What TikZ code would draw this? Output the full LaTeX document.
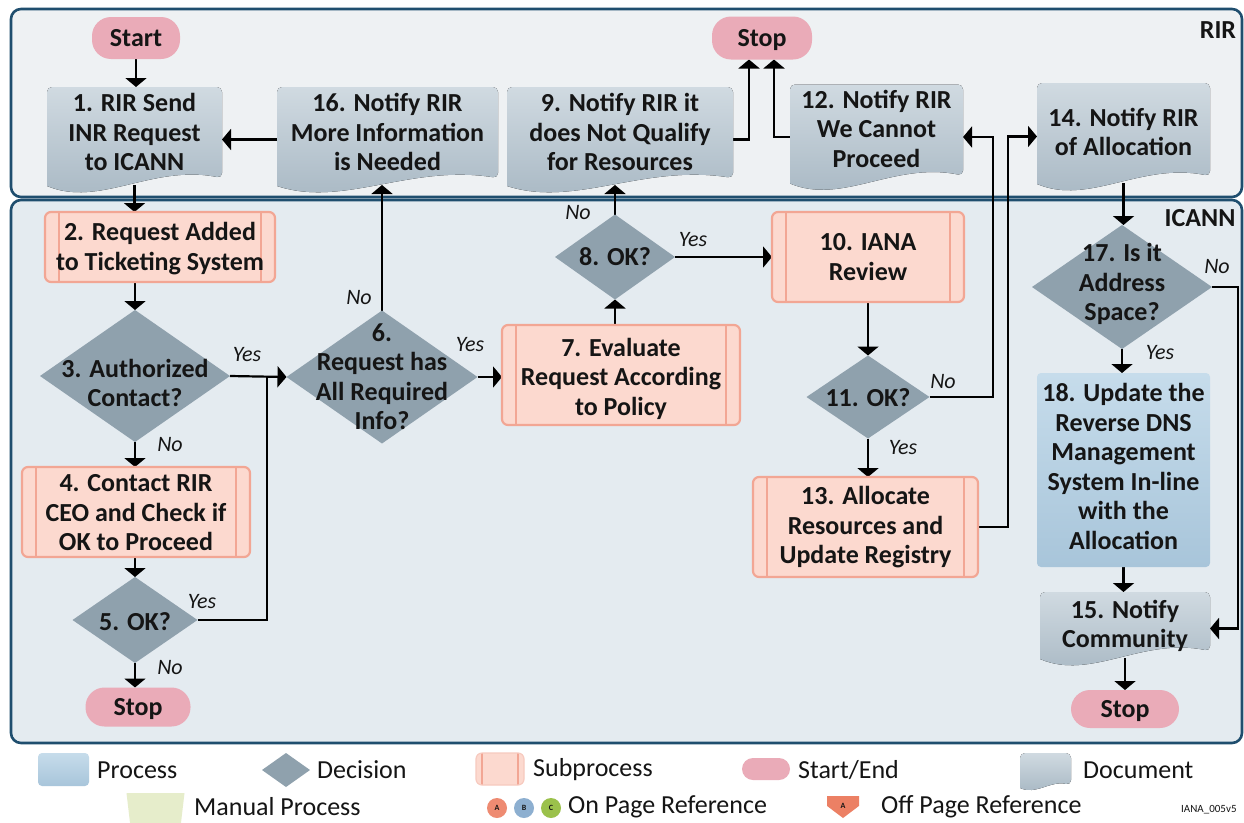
\documentclass[tikz,border=0pt]{standalone}
\usepackage{fontspec}
\setmainfont{Carlito}
\usetikzlibrary{shapes.geometric,arrows.meta,calc}
\pgfdeclarelayer{bg}
\pgfsetlayers{bg,main}

\definecolor{lanebd}{HTML}{1F4E6E}
\definecolor{rirbg}{HTML}{EEF1F3}
\definecolor{icannbg}{HTML}{E4EBF0}
\definecolor{docTop}{HTML}{D0DAE1}
\definecolor{docBot}{HTML}{A6B6C2}
\definecolor{decfill}{HTML}{8FA1AD}
\definecolor{subfill}{HTML}{FCD9CF}
\definecolor{subline}{HTML}{F2A694}
\definecolor{termfill}{HTML}{EAABB8}
\definecolor{procTop}{HTML}{C6DCEB}
\definecolor{procBot}{HTML}{A8C5DA}
\definecolor{manfill}{HTML}{E6EDCB}
\definecolor{refA}{HTML}{EE8B72}
\definecolor{refB}{HTML}{8DAFD0}
\definecolor{refC}{HTML}{9BC14B}
\definecolor{offref}{HTML}{EC8064}
\definecolor{ink}{HTML}{151515}

\newcommand\ctxt[2][-8.5pt]{\smash{\raisebox{#1}{\makebox[0pt]{\begin{tabular}{@{}c@{}}#2\end{tabular}}}}}

\tikzset{
  base/.style={font=\fontsize{26}{29.5}\selectfont\bfseries, text=ink, inner sep=0pt, outer sep=0pt},
  docnode/.style={base, rectangle, path picture={
      \fill[top color=docTop, bottom color=docBot]
        let \p1=(path picture bounding box.south west), \p2=(path picture bounding box.north east), \n1={\x2-\x1} in
        (\x1,\y1+6pt*#1) [rounded corners=5pt] -- (\x1,\y2) -- (\x2,\y2) -- (\x2,\y1+14pt*#1) [sharp corners]
        .. controls (\x1+0.6*\n1,\y1+28pt*#1) and (\x1+0.3*\n1,\y1-16pt*#1) .. (\x1,\y1+6pt*#1) -- cycle;}},
  docnode/.default=1,
  subnode/.style={base, rectangle, rounded corners=6pt, fill=subfill, draw=subline, line width=2.2pt,
    path picture={
      \draw[subline, line width=1.6pt] ([xshift=#1]path picture bounding box.north west) -- ([xshift=#1]path picture bounding box.south west);
      \draw[subline, line width=1.6pt] ([xshift=-#1]path picture bounding box.north east) -- ([xshift=-#1]path picture bounding box.south east);}},
  subnode/.default=14pt,
  decnode/.style={base, diamond, fill=decfill},
  termnode/.style={base, rectangle, rounded corners=19pt, fill=termfill},
  procnode/.style={base, rectangle, rounded corners=4pt, top color=procTop, bottom color=procBot},
  lbl/.style={font=\fontsize{22}{24}\selectfont\itshape, text=ink, inner sep=0pt},
  lanelbl/.style={font=\fontsize{26}{28}\selectfont\bfseries, text=ink, inner sep=0pt},
  legtxt/.style={font=\fontsize{26}{28}\selectfont, text=ink, anchor=west, inner sep=0pt},
  lane/.style={rounded corners=10pt, draw=lanebd, line width=2.6pt},
  conn/.style={draw=black, line width=2.2pt, -{Triangle[width=21pt,length=9pt]}},
  wire/.style={draw=black, line width=2.2pt},
  refdot/.style={circle, inner sep=0pt, minimum size=20pt, font=\fontsize{8}{8}\selectfont\bfseries, text=ink},
}

\begin{document}
\begin{tikzpicture}[x=1pt,y=-1pt]
\useasboundingbox (0,0) rectangle (1244,822);
\begin{pgfonlayer}{bg}
  \fill[white] (0,0) rectangle (1244,822);
  \draw[lane, fill=rirbg] (11,9) rectangle (1242,197);
  \draw[lane, fill=icannbg] (11,200) rectangle (1242,743);
\end{pgfonlayer}
\node[lanelbl] (lrir) at (1218,30) {RIR};
\node[lanelbl] (licann) at (1200,218) {ICANN};

% RIR lane
\node[termnode, minimum width=88pt, minimum height=42pt] (start) at (136,38) {\ctxt{Start}};
\node[docnode, minimum width=175pt, minimum height=105pt] (n1) at (134.5,139.5) {\ctxt[-2pt]{1. RIR Send\\INR Request\\to ICANN}};
\node[docnode, minimum width=221pt, minimum height=105pt] (n16) at (387.5,139.5) {\ctxt[-2pt]{16. Notify RIR\\More Information\\is Needed}};
\node[docnode, minimum width=226pt, minimum height=105pt] (n9) at (620,139.5) {\ctxt[-2pt]{9. Notify RIR it\\does Not Qualify\\for Resources}};
\node[termnode, minimum width=100pt, minimum height=43pt] (stopT) at (762,38) {\ctxt{Stop}};
\node[docnode, minimum width=173pt, minimum height=105pt] (n12) at (876.5,137) {\ctxt[-1pt]{12. Notify RIR\\We Cannot\\Proceed}};
\node[docnode, minimum width=173pt, minimum height=107pt] (n14) at (1123.5,136.5) {\ctxt[-5pt]{14. Notify RIR\\of Allocation}};

% ICANN lane
\node[subnode, minimum width=230pt, minimum height=70pt] (n2) at (160,247) {\ctxt[-9pt]{2. Request Added\\to Ticketing System}};
\node[decnode, minimum width=190pt, minimum height=132pt] (n3) at (135,376) {\ctxt[-16.5pt]{3. Authorized\\Contact?}};
\node[subnode, minimum width=228pt, minimum height=90pt] (n4) at (136,512) {\ctxt[-9.5pt]{4. Contact RIR\\CEO and Check if\\OK to Proceed}};
\node[decnode, minimum width=125pt, minimum height=86pt] (n5) at (135,620) {\ctxt[-10.5pt]{5. OK?}};
\node[termnode, minimum width=105pt, minimum height=39pt] (stopL) at (138,707) {\ctxt{Stop}};
\node[decnode, minimum width=191pt, minimum height=133pt] (n6) at (382,377) {\ctxt[-9pt]{6.\\Request has\\All Required\\Info?}};
\node[subnode, minimum width=238pt, minimum height=100pt] (n7) at (621,375) {\ctxt[-11pt]{7. Evaluate\\Request According\\to Policy}};
\node[decnode, minimum width=120pt, minimum height=85pt] (n8) at (615,257) {\ctxt[-8.5pt]{8. OK?}};
\node[subnode, minimum width=192pt, minimum height=90pt] (n10) at (868,257) {\ctxt[-9pt]{10. IANA\\Review}};
\node[decnode, minimum width=123pt, minimum height=83pt] (n11) at (868,397) {\ctxt[-9.5pt]{11. OK?}};
\node[subnode, minimum width=225pt, minimum height=100pt] (n13) at (865.5,527) {\ctxt[-7.5pt]{13. Allocate\\Resources and\\Update Registry}};
\node[decnode, minimum width=180pt, minimum height=124pt] (n17) at (1122,287) {\ctxt[-4.5pt]{17. Is it\\Address\\Space?}};
\node[procnode, minimum width=173pt, minimum height=194pt] (n18) at (1123.5,470) {\ctxt[-6pt]{18. Update the\\Reverse DNS\\Management\\System In-line\\with the\\Allocation}};
\node[docnode, minimum width=170pt, minimum height=73pt] (n15) at (1125,628.5) {\ctxt[-5pt]{15. Notify\\Community}};
\node[termnode, minimum width=108pt, minimum height=38pt] (stopR) at (1125,709) {\ctxt{Stop}};

% labels
\node[lbl] (y3) at (247,355) {Yes};
\node[lbl] (no3) at (170,445) {No};
\node[lbl] (y5) at (202,602) {Yes};
\node[lbl] (no5) at (170,668) {No};
\node[lbl] (no6) at (359,298) {No};
\node[lbl] (y6) at (470,345) {Yes};
\node[lbl] (no8) at (578,213) {No};
\node[lbl] (y8) at (693,240) {Yes};
\node[lbl] (no11) at (943,382) {No};
\node[lbl] (y11) at (903,448) {Yes};
\node[lbl] (no17) at (1217,267) {No};
\node[lbl] (y17) at (1160,353) {Yes};

% helper coordinates
\coordinate (n1b) at ([yshift=7pt]n1.south);
\coordinate (n16b) at ([yshift=7pt]n16.south);
\coordinate (n9b) at ([yshift=7pt]n9.south);
\coordinate (n14b) at ([yshift=7pt]n14.south);
\coordinate (n15b) at ([yshift=7pt]n15.south);
\coordinate (s1) at ([xshift=-13pt]stopT.south);
\coordinate (s2) at ([xshift=12pt]stopT.south);
\coordinate (j5) at (267,376);
\coordinate (k1) at (993,300);
\coordinate (k2) at (1008,300);
\coordinate (k3) at (1238,400);

\begin{pgfonlayer}{bg}
  \draw[conn] (start.south) -- (start.south |- n1.north);
  \draw[conn] (n16.west) -- (n1.east);
  \draw[conn] (n1b) -- (n1b |- n2.north);
  \draw[conn] (n3.north |- n2.south) -- (n3.north);
  \draw[conn] (n3.south) -- (n3.south |- n4.north);
  \draw[conn] (n5.north |- n4.south) -- (n5.north);
  \draw[conn] (n5.south) -- (n5.south |- stopL.north);
  \draw[conn] (n3.east) -- (n6.west);
  \draw[wire] (n5.east) -| (j5);
  \draw[conn] (n6.north) -- (n6.north |- n16b);
  \draw[conn] (n6.east) -- (n6.east -| n7.west);
  \draw[conn] (n8.south |- n7.north) -- (n8.south);
  \draw[conn] (n8.north) -- (n8.north |- n9b);
  \draw[conn] (n8.east) -- (n8.east -| n10.west);
  \draw[conn] (n9.east) -| (s1);
  \draw[conn] (n12.west) -| (s2);
  \draw[conn] (n10.south) -- (n10.south |- n11.north);
  \draw[conn] (n11.east) -| (k1) |- (n12.east);
  \draw[conn] (n11.south) -- (n11.south |- n13.north);
  \draw[conn] (n13.east) -| (k2) |- (n14.west);
  \draw[conn] (n14b) -- (n14b |- n17.north);
  \draw[conn] (n17.south) -- (n17.south |- n18.north);
  \draw[conn] (n17.east) -| (k3) |- (n15.east);
  \draw[conn] (n18.south) -- (n18.south |- n15.north);
  \draw[conn] (n15b) -- (n15b |- stopR.north);
\end{pgfonlayer}

% legend
\node[procnode, minimum width=51pt, minimum height=33pt] (lgp) at (63.5,769.5) {};
\node[legtxt] (ltp) at (97,770) {Process};
\node[decnode, minimum width=48pt, minimum height=34pt] (lgd) at (286,770) {};
\node[legtxt] (ltd) at (317,770) {Decision};
\node[subnode=6pt, minimum width=48pt, minimum height=32pt, line width=1.2pt, draw=subline!60] (lgs) at (500,769) {};
\node[legtxt] (lts) at (533,770) {Subprocess};
\node[termnode, rounded corners=11pt, minimum width=48pt, minimum height=22pt] (lgt) at (766,769) {};
\node[legtxt] (ltt) at (798,770) {Start/End};
\node[docnode=0.35, minimum width=51pt, minimum height=37pt] (lgdoc) at (1045.5,771.5) {};
\node[legtxt] (ltdoc) at (1083,770) {Document};
\node[inner sep=0pt, minimum width=58pt, minimum height=34pt,
  path picture={\fill[manfill] (path picture bounding box.north west) -- (path picture bounding box.north east)
     -- ([xshift=-4pt]path picture bounding box.south east) -- ([xshift=4pt]path picture bounding box.south west) -- cycle;}] (lgm) at (155.5,810) {};
\node[legtxt] (ltm) at (194,807) {Manual Process};
\node[refdot, fill=refA] (lga) at (497,808) {A};
\node[refdot, fill=refB] (lgb) at (524,808) {B};
\node[refdot, fill=refC] (lgc) at (551,808) {C};
\node[legtxt] (lton) at (568,807) {On Page Reference};
\node[inner sep=0pt, minimum width=32pt, minimum height=22pt, font=\fontsize{8}{8}\selectfont\bfseries, text=ink,
  path picture={\fill[offref] (path picture bounding box.north west) -- (path picture bounding box.north east)
     -- ($(path picture bounding box.north east)!0.45!(path picture bounding box.south east)$)
     -- (path picture bounding box.south)
     -- ($(path picture bounding box.north west)!0.45!(path picture bounding box.south west)$) -- cycle;}] (lgo) at (843,807) {\raisebox{3pt}{A}};
\node[legtxt] (ltoff) at (881,807) {Off Page Reference};
\node[font=\fontsize{11}{12}\selectfont, text=ink, anchor=west, inner sep=0pt] (lgid) at (1181,810) {IANA\_005v5};
\end{tikzpicture}
\end{document}
